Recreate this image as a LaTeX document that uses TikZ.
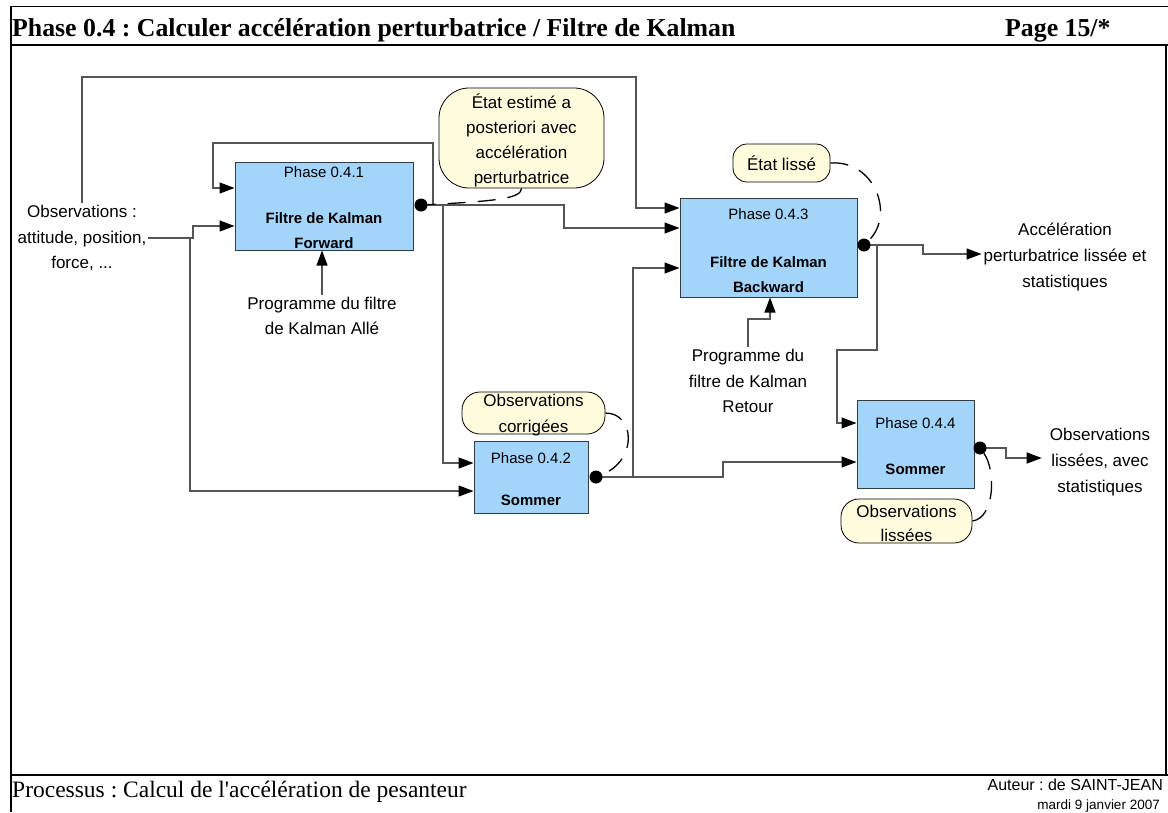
\documentclass[tikz,border=0pt]{standalone}
\usepackage{fontspec}
\setmainfont{Liberation Serif}
\newfontfamily\sansf{Liberation Sans}
\usetikzlibrary{arrows.meta}
\definecolor{boxblue}{RGB}{163,213,250}
\definecolor{boxline}{RGB}{50,60,70}
\definecolor{callfill}{RGB}{255,252,222}
\definecolor{wire}{RGB}{85,85,85}
\frenchspacing
\begin{document}
\begin{tikzpicture}[x=1pt,y=-1pt,
  proc/.style={draw=boxline, fill=boxblue, line width=1pt, inner sep=0pt},
  phase/.style={font=\sansf\fontsize{15}{18}\selectfont, inner sep=0pt},
  ptitle/.style={font=\sansf\bfseries\fontsize{15}{18}\selectfont, inner sep=0pt},
  lbl/.style={font=\sansf\fontsize{17}{25.7}\selectfont, align=center, inner sep=2pt},
  callout/.style={draw=black, fill=callfill, line width=0.8pt, inner sep=0pt},
  calltext/.style={font=\sansf\fontsize{17}{25}\selectfont, align=center, inner sep=0pt},
  conn/.style={draw=wire, line width=1.2pt},
  arr/.style={conn, -{Triangle[length=15pt,width=11pt,color=black]}},
  tail/.style={draw=black, line width=1.3pt, dash pattern=on 18pt off 12pt},
  dot/.style={circle, fill=black, inner sep=0pt, minimum size=13pt},
  frameline/.style={draw=black}
]
\useasboundingbox (0,0) rectangle (1168,812);

% frame
\draw[frameline, line width=1pt] (11,6) -- (1168,6);
\draw[frameline, line width=1.5pt] (11,6) -- (11,812);
\draw[frameline, line width=2.5pt] (11,45) -- (1168,45);
\draw[frameline, line width=2.5pt] (11,775) -- (1168,775);
\draw[frameline, line width=1.2pt] (1166,45) -- (1166,775);

% header / footer
\node[anchor=base west, inner sep=0pt, font=\bfseries\fontsize{25.8}{30}\selectfont] (title) at (12,36) {Phase 0.4 : Calculer accélération perturbatrice / Filtre de Kalman};
\node[anchor=base west, inner sep=0pt, font=\bfseries\fontsize{25.8}{30}\selectfont] (page) at (1005,36) {Page 15/*};
\node[anchor=base west, inner sep=0pt, font=\fontsize{23.5}{28}\selectfont] (procname) at (12,797) {Processus : Calcul de l\textquotesingle accélération de pesanteur};
\node[anchor=base east, inner sep=0pt, font=\sansf\fontsize{16}{19}\selectfont] (auth) at (1163,790) {Auteur : de SAINT-JEAN};
\node[anchor=base east, inner sep=0pt, font=\sansf\fontsize{13.5}{16}\selectfont] (date) at (1160,809) {mardi 9 janvier 2007};

% process boxes
\node[proc, minimum width=178pt, minimum height=88pt] (b1) at (324,206) {};
\node[proc, minimum width=177pt, minimum height=99pt] (b3) at (768.5,247.5) {};
\node[proc, minimum width=114pt, minimum height=72pt] (b2) at (531,477) {};
\node[proc, minimum width=117pt, minimum height=88pt] (b4) at (915.5,444) {};

\node[phase] (b1p) at (324,172) {Phase 0.4.1};
\node[ptitle] (b1a) at (324,218) {Filtre de Kalman};
\node[ptitle] (b1b) at (324,243) {Forward};
\node[phase] (b3p) at (768.5,214) {Phase 0.4.3};
\node[ptitle] (b3a) at (768.5,262) {Filtre de Kalman};
\node[ptitle] (b3b) at (768.5,287) {Backward};
\node[phase] (b2p) at (531,458) {Phase 0.4.2};
\node[ptitle] (b2a) at (531,500) {Sommer};
\node[phase] (b4p) at (915.5,423) {Phase 0.4.4};
\node[ptitle] (b4a) at (915.5,469) {Sommer};

% labels
\node[lbl] (obs) at (82,238) {Observations :\\attitude, position,\\force, ...};
\node[lbl] (prog1) at (322,316) {Programme du filtre\\de Kalman Allé};
\node[lbl] (prog2) at (748,381) {Programme du\\filtre de Kalman\\Retour};
\node[lbl] (acc) at (1065,257) {Accélération\\perturbatrice lissée et\\statistiques};
\node[lbl] (obsl) at (1100,462) {Observations\\lissées, avec\\statistiques};

% dots (coordinates)
\coordinate (d1c) at (421,205);
\coordinate (d3c) at (864,245);
\coordinate (d2c) at (596,477);
\coordinate (d4c) at (980,448);

% connectors
\draw[arr] (obs.north) -- (82,77) -- (636,77) -- (636,208) -- (b3.west |- 0,208);
\draw[arr] (d1c) -- (433,205) -- (433,143) -- (213,143) -- (213,188) -- (b1.west |- 0,188);
\draw[arr] (d1c) -- (564,205) -- (564,228) -- (b3.west |- 0,228);
\draw[arr] (d1c) -- (443,205) -- (443,463) -- (b2.west |- 0,463);
\draw[arr] (obs.east |- 0,238) -- (193,238) -- (193,226) -- (b1.west |- 0,226);
\draw[arr] (obs.east |- 0,238) -- (190,238) -- (190,491) -- (b2.west |- 0,491);
\draw[arr] (d2c) -- (633,477) -- (633,268) -- (b3.west |- 0,268);
\draw[arr] (d2c) -- (723,477) -- (723,462) -- (b4.west |- 0,462);
\draw[arr] (d3c) -- (923,245) -- (923,254) -- (acc.west |- 0,254);
\draw[arr] (d3c) -- (877,245) -- (877,350) -- (837,350) -- (837,423) -- (b4.west |- 0,423);
\draw[arr, shorten >=6pt] (d4c) -- (1006,448) -- (1006,458) -- (obsl.west |- 0,458);
\draw[arr] (prog1.north) -- (prog1.north |- b1.south);
\draw[arr] (prog2.north) -- (748,319) -- (770,319) -- (770,0 |- b3.south);

% dots
\node[dot] (d1) at (d1c) {};
\node[dot] (d3) at (d3c) {};
\node[dot] (d2) at (d2c) {};
\node[dot] (d4) at (d4c) {};

% callouts
\node[callout, rounded corners=30pt, minimum width=165pt, minimum height=100pt] (c1) at (521.5,138) {};
\node[calltext] (c1t) at (521.5,140.5) {État estimé a\\posteriori avec\\accélération\\perturbatrice};
\node[callout, rounded corners=14pt, minimum width=97pt, minimum height=38pt] (c2) at (781.5,163) {};
\node[calltext] (c2t) at (781.5,163) {État lissé};
\node[callout, rounded corners=18pt, minimum width=143pt, minimum height=42pt] (c3) at (533.5,413) {};
\node[calltext, font=\sansf\fontsize{17}{26}\selectfont] (c3t) at (533.5,415) {Observations\\corrigées};
\node[callout, rounded corners=18pt, minimum width=131pt, minimum height=44pt] (c4) at (906.5,521) {};
\node[calltext, font=\sansf\fontsize{17}{24}\selectfont] (c4t) at (906.5,523) {Observations\\lissées};

% callout tails
\draw[tail] (c1.south) .. controls (521,198) and (500,201) .. (d1);
\draw[tail] (c2.east) .. controls (875,160) and (895,215) .. (d3);
\draw[tail] (c3.east) .. controls (635,413) and (638,460) .. (d2);
\draw[tail] (c4.east) .. controls (995,518) and (996,470) .. (d4);
\end{tikzpicture}
\end{document}
